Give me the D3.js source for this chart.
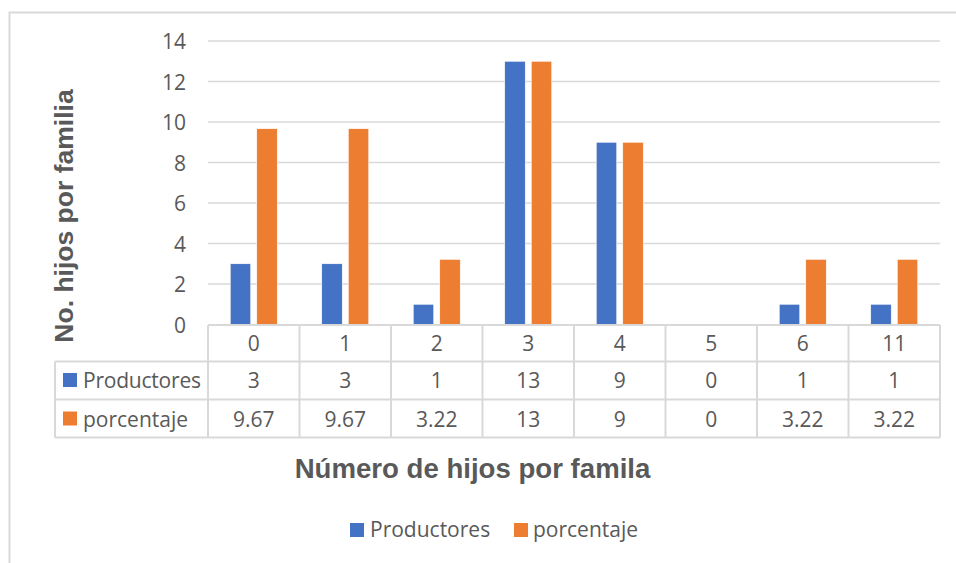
<!DOCTYPE html>
<html>
  <head>
    <meta charset="utf-8" />
    <title>Número de hijos por famila</title>
    <script src="https://d3js.org/d3.v7.min.js"></script>
    <style>
      body {
        margin: 0;
        background: #fff;
      }
      svg {
        display: block;
        font-family: "Open Sans", sans-serif;
      }
      .grid line {
        stroke: #d9d9d9;
        stroke-width: 1.5;
      }
      .tbl line {
        stroke: #d9d9d9;
        stroke-width: 2;
      }
      text {
        fill: #595959;
      }
    </style>
  </head>
  <body>
    <svg width="956" height="563"></svg>

    <script>
      // Data
      const categories = ["0", "1", "2", "3", "4", "5", "6", "11"];
      const seriesNames = ["Productores", "porcentaje"];
      const productores = [3, 3, 1, 13, 9, 0, 1, 1];
      const porcentaje = [9.67, 9.67, 3.22, 13, 9, 0, 3.22, 3.22];
      const yTicks = [0, 2, 4, 6, 8, 10, 12, 14];
      const colors = ["#4472C4", "#ED7D31"];

      const seriesValues = [productores, porcentaje];
      const data = categories.map((c, i) => ({
        cat: c,
        values: seriesNames.map((s, j) => ({ series: s, value: seriesValues[j][i] }))
      }));

      const svg = d3.select("svg");

      // chart frame
      svg.append("rect")
        .attr("x", 9.5).attr("y", 12.5)
        .attr("width", 970).attr("height", 570)
        .attr("fill", "none")
        .attr("stroke", "#d9d9d9")
        .attr("stroke-width", 2);

      const plotLeft = 208, plotRight = 940;
      const tableLeft = 55;
      const rowY = [325, 361.5, 399.5, 437.5];

      const x0 = d3.scaleBand().domain(categories).range([plotLeft, plotRight]).padding(0);
      const bw = x0.bandwidth();
      const groupW = bw * 0.514;
      const x1 = d3.scaleBand().domain(seriesNames)
        .range([(bw - groupW) / 2, (bw + groupW) / 2])
        .paddingInner(0.226);
      const y = d3.scaleLinear().domain([0, 14]).range([324.5, 41]);
      const color = d3.scaleOrdinal().domain(seriesNames).range(colors);

      // gridlines
      const grid = svg.append("g").attr("class", "grid");
      grid.selectAll("line").data(yTicks.filter(d => d > 0)).join("line")
        .attr("x1", plotLeft).attr("x2", plotRight)
        .attr("y1", d => y(d)).attr("y2", d => y(d));

      // y tick labels
      const yAxis = svg.append("g")
        .attr("transform", `translate(${plotLeft - 22},0)`)
        .call(d3.axisLeft(y).tickValues(yTicks).tickSize(0).tickPadding(0));
      yAxis.select(".domain").remove();
      yAxis.selectAll("text")
        .attr("font-family", "Open Sans")
        .attr("font-size", 21)
        .attr("fill", "#595959")
        .attr("dy", "0.36em");

      // bars
      const groups = svg.append("g").selectAll("g").data(data).join("g")
        .attr("transform", d => `translate(${x0(d.cat)},0)`);
      groups.selectAll("rect").data(d => d.values).join("rect")
        .attr("x", d => x1(d.series))
        .attr("width", x1.bandwidth())
        .attr("y", d => y(d.value))
        .attr("height", d => y(0) - y(d.value))
        .attr("fill", d => color(d.series))
        .attr("stroke", "#fff")
        .attr("stroke-width", 0.6);

      // data table
      const tbl = svg.append("g").attr("class", "tbl");
      // horizontal lines
      tbl.append("line").attr("x1", plotLeft).attr("x2", plotRight).attr("y1", rowY[0]).attr("y2", rowY[0]);
      rowY.slice(1).forEach(yy => {
        tbl.append("line").attr("x1", tableLeft).attr("x2", plotRight).attr("y1", yy).attr("y2", yy);
      });
      // vertical lines
      tbl.append("line").attr("x1", tableLeft).attr("x2", tableLeft).attr("y1", rowY[1]).attr("y2", rowY[3]);
      categories.forEach(c => {
        tbl.append("line").attr("x1", x0(c)).attr("x2", x0(c)).attr("y1", rowY[0]).attr("y2", rowY[3]);
      });
      tbl.append("line").attr("x1", plotRight).attr("x2", plotRight).attr("y1", rowY[0]).attr("y2", rowY[3]);

      const cellText = (g, xx, yy, txt, anchor) => g.append("text")
        .attr("x", xx).attr("y", yy)
        .attr("text-anchor", anchor || "middle")
        .attr("font-size", 21)
        .text(txt);

      // header row (categories)
      categories.forEach(c => cellText(tbl, x0(c) + bw / 2, 350.5, c));

      // series rows
      const rowBase = [388, 426.5];
      seriesNames.forEach((s, j) => {
        tbl.append("rect")
          .attr("x", 63).attr("y", rowBase[j] - 15)
          .attr("width", 14).attr("height", 14)
          .attr("fill", colors[j]);
        cellText(tbl, 83, rowBase[j], s, "start").attr("textLength", j === 0 ? 118 : null);
        categories.forEach((c, i) => cellText(tbl, x0(c) + bw / 2, rowBase[j], String(seriesValues[j][i])));
      });

      // axis titles
      svg.append("text")
        .attr("x", 472.5).attr("y", 478)
        .attr("text-anchor", "middle")
        .attr("font-family", "Liberation Sans, Arial, sans-serif")
        .attr("font-weight", "bold")
        .attr("font-size", 27.6)
        .text("Número de hijos por famila");

      svg.append("text")
        .attr("transform", "translate(73,216) rotate(-90)")
        .attr("text-anchor", "middle")
        .attr("font-family", "Liberation Sans, Arial, sans-serif")
        .attr("font-weight", "bold")
        .attr("font-size", 26.5)
        .text("No. hijos por familia");

      // legend
      const legendX = [350, 514];
      const legend = svg.append("g").selectAll("g").data(seriesNames).join("g")
        .attr("transform", (d, i) => `translate(${legendX[i]},523)`);
      legend.append("rect")
        .attr("width", 14).attr("height", 14)
        .attr("fill", d => color(d));
      legend.append("text")
        .attr("x", (d, i) => i === 0 ? 20 : 19)
        .attr("y", 14)
        .attr("font-size", 21)
        .text(d => d);
    </script>
  </body>
</html>
